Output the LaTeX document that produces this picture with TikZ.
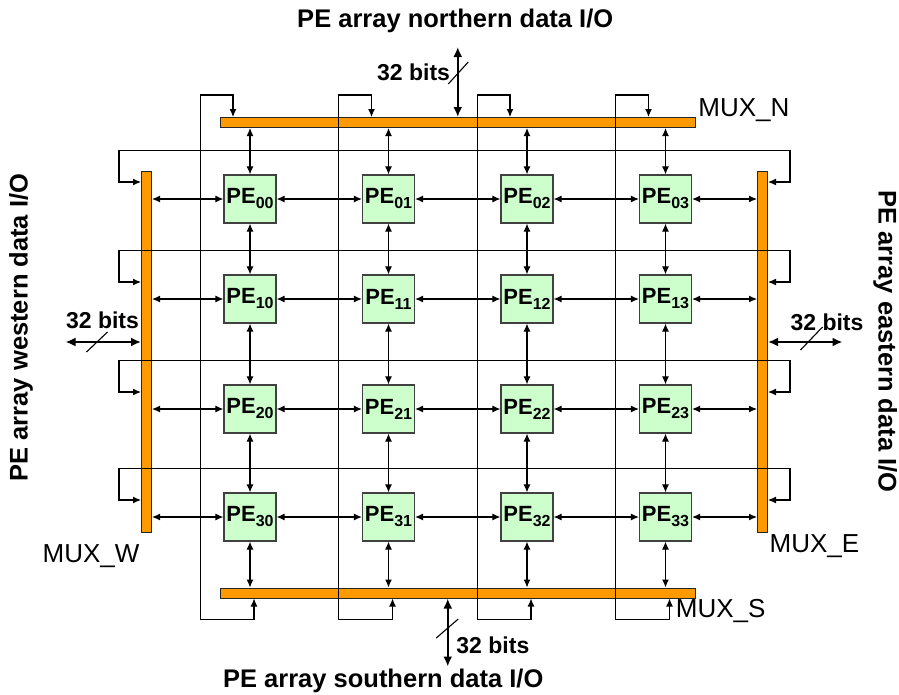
\documentclass[tikz,border=0pt]{standalone}
\usepackage{fontspec}
\setmainfont{Liberation Sans}
\usetikzlibrary{arrows.meta, positioning, calc}

\definecolor{pegreen}{HTML}{CCFFCC}
\definecolor{muxorange}{HTML}{FF9900}
\newcommand{\pelabel}[1]{PE\raisebox{-5pt}{\fontsize{16}{16}\selectfont #1}}

\begin{document}
\begin{tikzpicture}[
    x=1pt, y=1pt,
    on grid,
    node distance=100pt and 138.5pt,
    % Define styles
    pe/.style={
        rectangle,
        draw=black!75,
        fill=pegreen,
        minimum width=52pt,
        minimum height=48pt,
        inner sep=0pt,
        font=\fontsize{22}{26}\selectfont\bfseries,
        line width=1.2pt
    },
    muxbar/.style={
        rectangle,
        draw=black!85,
        fill=muxorange,
        inner sep=0pt,
        line width=1pt
    },
    line/.style={
        draw,
        {Latex[length=8pt,width=7pt]}-{Latex[length=8pt,width=7pt]},
        line width=1.1pt
    },
    feedline/.style={
        draw,
        -{Latex[length=8pt,width=7pt]},
        line width=1.1pt
    },
    busline/.style={
        draw,
        {Latex[length=10pt,width=9pt]}-{Latex[length=10pt,width=9pt]},
        line width=2.4pt
    },
    busmark/.style={draw, line width=1.1pt},
    bits/.style={font=\fontsize{23}{27}\selectfont\bfseries, inner sep=0pt},
    iotitle/.style={font=\fontsize{25.5}{30}\selectfont\bfseries, inner sep=0pt},
    muxlabel/.style={font=\fontsize{26}{31}\selectfont, inner sep=0pt}
]
\useasboundingbox (0,0) rectangle (899,-694);

% Place nodes
% PE array, row by row
\node[pe] (pe00) at (250,-199) {\pelabel{00}};
\node[pe, right=of pe00] (pe01) {\pelabel{01}};
\node[pe, right=of pe01] (pe02) {\pelabel{02}};
\node[pe, right=of pe02] (pe03) {\pelabel{03}};

\node[pe, below=of pe00] (pe10) {\pelabel{10}};
\node[pe, right=of pe10] (pe11) {\pelabel{11}};
\node[pe, right=of pe11] (pe12) {\pelabel{12}};
\node[pe, right=of pe12] (pe13) {\pelabel{13}};

\node[pe, below=110pt of pe10] (pe20) {\pelabel{20}};
\node[pe, right=of pe20] (pe21) {\pelabel{21}};
\node[pe, right=of pe21] (pe22) {\pelabel{22}};
\node[pe, right=of pe22] (pe23) {\pelabel{23}};

\node[pe, below=108pt of pe20] (pe30) {\pelabel{30}};
\node[pe, right=of pe30] (pe31) {\pelabel{31}};
\node[pe, right=of pe31] (pe32) {\pelabel{32}};
\node[pe, right=of pe32] (pe33) {\pelabel{33}};

% Multiplexer bars round the array
\coordinate (nmid) at ($(pe00)!0.5!(pe03)$);
\coordinate (smid) at ($(pe30)!0.5!(pe33)$);
\coordinate (wmid) at ($(pe00)!0.5!(pe30)$);
\coordinate (emid) at ($(pe03)!0.5!(pe33)$);
\node[muxbar, minimum width=475pt, minimum height=10pt, above=71pt of nmid] (muxn) {};
\node[muxbar, minimum width=475pt, minimum height=10pt, below=70.5pt of smid] (muxs) {};
\node[muxbar, minimum width=10pt, minimum height=361pt, left=98pt of wmid, yshift=6.5pt] (muxw) {};
\node[muxbar, minimum width=10pt, minimum height=361pt, right=91.5pt of emid, yshift=6.5pt] (muxe) {};

\node[muxlabel, anchor=base west] (muxnlabel) at ($(muxn.east)+(2.5,6)$) {MUX\_N};
\node[muxlabel, anchor=base west] (muxslabel) at ($(muxs.east)+(-20,-24)$) {MUX\_S};
\node[muxlabel, anchor=base west] (muxwlabel) at ($(muxw.south)+(-104,-30)$) {MUX\_W};
\node[muxlabel, anchor=base west] (muxelabel) at ($(muxe.south)+(7,-20)$) {MUX\_E};

% Draw edges
% Rows
\path[line] (pe00) -- (pe01); \path[line] (pe01) -- (pe02); \path[line] (pe02) -- (pe03);
\path[line] (pe10) -- (pe11); \path[line] (pe11) -- (pe12); \path[line] (pe12) -- (pe13);
\path[line] (pe20) -- (pe21); \path[line] (pe21) -- (pe22); \path[line] (pe22) -- (pe23);
\path[line] (pe30) -- (pe31); \path[line] (pe31) -- (pe32); \path[line] (pe32) -- (pe33);

% Columns
\path[line] (pe00) -- (pe10); \path[line] (pe10) -- (pe20); \path[line] (pe20) -- (pe30);
\path[line] (pe01) -- (pe11); \path[line] (pe11) -- (pe21); \path[line] (pe21) -- (pe31);
\path[line] (pe02) -- (pe12); \path[line] (pe12) -- (pe22); \path[line] (pe22) -- (pe32);
\path[line] (pe03) -- (pe13); \path[line] (pe13) -- (pe23); \path[line] (pe23) -- (pe33);

% West and east multiplexers
\path[line] (muxw.east |- pe00) -- (pe00); \path[line] (pe03) -- (muxe.west |- pe03);
\path[line] (muxw.east |- pe10) -- (pe10); \path[line] (pe13) -- (muxe.west |- pe13);
\path[line] (muxw.east |- pe20) -- (pe20); \path[line] (pe23) -- (muxe.west |- pe23);
\path[line] (muxw.east |- pe30) -- (pe30); \path[line] (pe33) -- (muxe.west |- pe33);

% North and south multiplexers
\path[line] (muxn.south -| pe00) -- (pe00); \path[line] (pe30) -- (muxs.north -| pe30);
\path[line] (muxn.south -| pe01) -- (pe01); \path[line] (pe31) -- (muxs.north -| pe31);
\path[line] (muxn.south -| pe02) -- (pe02); \path[line] (pe32) -- (muxs.north -| pe32);
\path[line] (muxn.south -| pe03) -- (pe03); \path[line] (pe33) -- (muxs.north -| pe33);

% Feedback loops, columns
\path[feedline] ($(muxs.south -| pe00.west)+(-23,-21)$) |- ($(muxn.north -| pe00)+(-17,22)$) -- ++(0,-22);
\path[feedline] ($(muxs.south -| pe00.west)+(-23,-21)$) -| ($(muxs.south -| pe00)+(4,0)$);
\path[feedline] ($(muxs.south -| pe01.west)+(-23,-21)$) |- ($(muxn.north -| pe01)+(-17,22)$) -- ++(0,-22);
\path[feedline] ($(muxs.south -| pe01.west)+(-23,-21)$) -| ($(muxs.south -| pe01)+(4,0)$);
\path[feedline] ($(muxs.south -| pe02.west)+(-23,-21)$) |- ($(muxn.north -| pe02)+(-17,22)$) -- ++(0,-22);
\path[feedline] ($(muxs.south -| pe02.west)+(-23,-21)$) -| ($(muxs.south -| pe02)+(4,0)$);
\path[feedline] ($(muxs.south -| pe03.west)+(-23,-21)$) |- ($(muxn.north -| pe03)+(-17,22)$) -- ++(0,-22);
\path[feedline] ($(muxs.south -| pe03.west)+(-23,-21)$) -| ($(muxs.south -| pe03)+(4,0)$);

% Feedback loops, rows
\path[feedline] ($(muxe.east |- pe00.north)+(22,24)$) -- ($(muxw.west |- pe00.north)+(-22,24)$) |- ($(muxw.west |- pe00)+(0,17)$);
\path[feedline] ($(muxe.east |- pe00.north)+(22,24)$) |- ($(muxe.east |- pe00)+(0,17)$);
\path[feedline] ($(muxe.east |- pe10.north)+(22,24)$) -- ($(muxw.west |- pe10.north)+(-22,24)$) |- ($(muxw.west |- pe10)+(0,17)$);
\path[feedline] ($(muxe.east |- pe10.north)+(22,24)$) |- ($(muxe.east |- pe10)+(0,17)$);
\path[feedline] ($(muxe.east |- pe20.north)+(22,24)$) -- ($(muxw.west |- pe20.north)+(-22,24)$) |- ($(muxw.west |- pe20)+(0,17)$);
\path[feedline] ($(muxe.east |- pe20.north)+(22,24)$) |- ($(muxe.east |- pe20)+(0,17)$);
\path[feedline] ($(muxe.east |- pe30.north)+(22,24)$) -- ($(muxw.west |- pe30.north)+(-22,24)$) |- ($(muxw.west |- pe30)+(0,17)$);
\path[feedline] ($(muxe.east |- pe30.north)+(22,24)$) |- ($(muxe.east |- pe30)+(0,17)$);

% Data I/O buses
\coordinate (nio) at ($(muxn.north)+(0,70)$);
\coordinate (sio) at ($(muxs.south)+(-10,-68)$);
\coordinate (wio) at ($(muxw.west)+(-75.5,9.5)$);
\coordinate (eio) at ($(muxe.east)+(74.5,9.5)$);

\path[busline] (muxn.north) -- (nio);
\path[busline] ($(muxs.south)+(-10,0)$) -- (sio);
\path[busline] ($(muxw.west)+(0,9.5)$) -- (wio);
\path[busline] ($(muxe.east)+(0,9.5)$) -- (eio);

\path[busmark] ($(nio)+(-9.5,-37)$) -- ++(20,22);
\path[busmark] ($(sio)+(-11.5,28.5)$) -- ++(22,19);
\path[busmark] ($(wio)+(21,-10)$) -- ++(21,20);
\path[busmark] ($(eio)+(-42,-8)$) -- ++(22,23);

\node[bits, anchor=base east] (nbits) at ($(nio)+(-7.5,-33)$) {32 bits};
\node[bits, anchor=base west] (sbits) at ($(sio)+(8.5,13.5)$) {32 bits};
\node[bits, anchor=base] (wbits) at ($(wio)+(37,14)$) {32 bits};
\node[bits, anchor=base] (ebits) at ($(eio)+(-15.5,12)$) {32 bits};

\node[iotitle, anchor=base] (ntitle) at ($(nio)+(-2.5,20)$) {PE array northern data I/O};
\node[iotitle, anchor=base] (stitle) at ($(sio)+(-64.5,-21)$) {PE array southern data I/O};
\node[iotitle, anchor=base, rotate=90] (wtitle) at ($(wio)+(-38,14.5)$) {PE array western data I/O};
\node[iotitle, anchor=base, rotate=-90] (etitle) at ($(eio)+(36,0.5)$) {PE array eastern data I/O};

\end{tikzpicture}
\end{document}
